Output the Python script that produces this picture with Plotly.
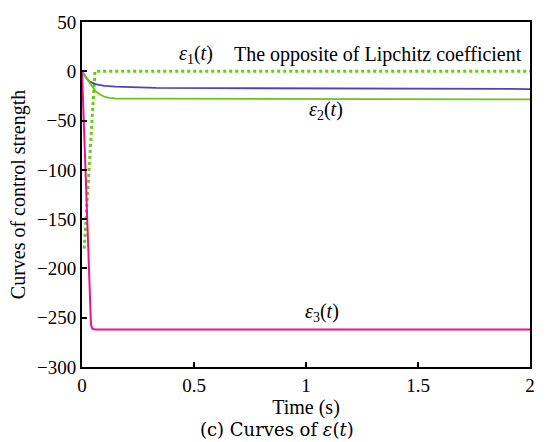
import plotly.graph_objects as go

# Data
t1 = [0.0, 0.01, 0.058, 0.5, 1.0, 1.5, 2.0]
eps1 = [None, -180, 0, 0, 0, 0, 0]  # opposite of Lipchitz coefficient (dotted)

t_blue = [0, 0.01, 0.02, 0.03, 0.04, 0.06, 0.08, 0.1, 0.15, 0.2, 0.33, 0.6, 1.0, 1.5, 2.0]
eps_blue = [0, -4, -7, -9.5, -11, -13, -14, -14.8, -15.5, -16, -16.8, -17.1, -17.4, -17.7, -18]

t2 = [0, 0.01, 0.02, 0.03, 0.04, 0.05, 0.06, 0.08, 0.1, 0.12, 0.15, 0.33, 0.6, 1.0, 1.5, 2.0]
eps2 = [0, -3.5, -7, -10.5, -14, -17, -20, -23.5, -25.8, -27, -27.6, -27.8, -28, -28.2, -28.4, -28.5]

t3 = [0, 0.005, 0.01, 0.016, 0.022, 0.027, 0.032, 0.036, 0.04, 0.045, 0.05, 0.06, 0.5, 1.0, 1.5, 2.0]
eps3 = [0, -32, -64, -100, -140, -180, -220, -248, -257, -260.5, -261.5, -262, -262, -262, -262, -262]

x_ticks = [0, 0.5, 1, 1.5, 2]
x_tick_text = ["0", "0.5", "1", "1.5", "2"]
y_ticks = [50, 0, -50, -100, -150, -200, -250, -300]
y_tick_text = ["50", "0", "\u221250", "\u2212100", "\u2212150", "\u2212200", "\u2212250", "\u2212300"]

FONT = "Liberation Serif"

fig = go.Figure()
fig.add_trace(go.Scatter(x=t1, y=eps1, mode="lines",
                         line=dict(color="#66cc11", width=3, dash="dot"), showlegend=False))
fig.add_trace(go.Scatter(x=t_blue, y=eps_blue, mode="lines",
                         line=dict(color="#4a45b8", width=1.8), showlegend=False))
fig.add_trace(go.Scatter(x=t2, y=eps2, mode="lines",
                         line=dict(color="#6cc418", width=1.8), showlegend=False))
fig.add_trace(go.Scatter(x=t3, y=eps3, mode="lines",
                         line=dict(color="#e8158a", width=2), showlegend=False))

ann_font = dict(family=FONT, size=20, color="black")
fig.add_annotation(x=0.51, y=17, text="<i>ε</i><sub>1</sub>(<i>t</i>)", showarrow=False, font=ann_font)
fig.add_annotation(x=1.32, y=17, text="The opposite of Lipchitz coefficient", showarrow=False, font=ann_font)
fig.add_annotation(x=1.09, y=-40, text="<i>ε</i><sub>2</sub>(<i>t</i>)", showarrow=False, font=ann_font)
fig.add_annotation(x=1.07, y=-245, text="<i>ε</i><sub>3</sub>(<i>t</i>)", showarrow=False, font=ann_font)
fig.add_annotation(x=0.435, y=-0.181, xref="paper", yref="paper", yanchor="middle",
                   text="(c) Curves of <i>ε</i>(<i>t</i>)", showarrow=False,
                   font=dict(family="DejaVu Serif", size=18, color="black"))

axis_common = dict(showgrid=False, zeroline=False, showline=True, linecolor="black",
                   linewidth=2, mirror=True, ticks="inside", ticklen=5, tickwidth=1.5,
                   tickcolor="black", tickfont=dict(family=FONT, size=19, color="black"))

fig.update_xaxes(range=[0, 2], tickvals=x_ticks, ticktext=x_tick_text,
                 title=dict(text="Time (s)", font=dict(family=FONT, size=20, color="black"), standoff=0),
                 **axis_common)
fig.update_yaxes(range=[-300, 50], tickvals=y_ticks, ticktext=y_tick_text,
                 title=dict(text="Curves of control strength", font=dict(family=FONT, size=20, color="black"), standoff=6),
                 **axis_common)

fig.update_layout(width=547, height=442, margin=dict(l=82, r=17, t=15, b=75),
                  font=dict(family=FONT, size=19, color="black"),
                  plot_bgcolor="white", paper_bgcolor="white")

fig.write_html("out.html")
